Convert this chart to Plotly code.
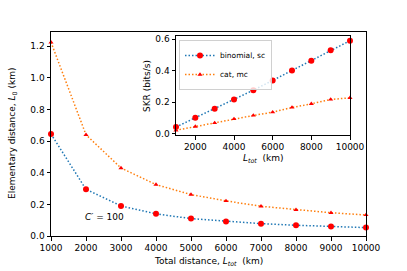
import plotly.graph_objects as go

W, H = 407, 271

# Data
l_tot = [1000, 2000, 3000, 4000, 5000, 6000, 7000, 8000, 9000, 10000]
l0_binomial = [0.645, 0.295, 0.19, 0.14, 0.11, 0.092, 0.078, 0.068, 0.06, 0.053]
l0_cat = [1.225, 0.64, 0.43, 0.325, 0.262, 0.222, 0.188, 0.166, 0.147, 0.133]
skr_binomial = [0.042, 0.1, 0.157, 0.217, 0.276, 0.338, 0.401, 0.463, 0.529, 0.59]
skr_cat = [0.021, 0.045, 0.068, 0.093, 0.115, 0.136, 0.166, 0.189, 0.217, 0.227]
main_xticks = [1000, 2000, 3000, 4000, 5000, 6000, 7000, 8000, 9000, 10000]
main_yticks = [0.0, 0.2, 0.4, 0.6, 0.8, 1.0, 1.2]
inset_xticks = [2000, 4000, 6000, 8000, 10000]
inset_yticks = [0.0, 0.2, 0.4, 0.6]
series_names = ["binomial, sc", "cat, mc"]

BLUE = "#1f77b4"
ORANGE = "#ff7f0e"
FONT = "DejaVu Sans"
FS = 9
DOT = "1.5px,2px"

def px_x(p):
    return p / W

def px_y(p):
    return 1 - p / H

fig = go.Figure()

# Main axes
fig.add_trace(go.Scatter(x=l_tot, y=l0_binomial, mode="lines+markers",
                         line=dict(color=BLUE, dash=DOT, width=1.5),
                         marker=dict(color="red", size=6, symbol="circle"),
                         showlegend=False, xaxis="x", yaxis="y", cliponaxis=False))
fig.add_trace(go.Scatter(x=l_tot, y=l0_cat, mode="lines+markers",
                         line=dict(color=ORANGE, dash=DOT, width=1.5),
                         marker=dict(color="red", size=4.5, symbol="triangle-up"),
                         showlegend=False, xaxis="x", yaxis="y", cliponaxis=False))

# Inset
fig.add_trace(go.Scatter(x=l_tot, y=skr_binomial, mode="lines+markers", name=series_names[0],
                         line=dict(color=BLUE, dash=DOT, width=1.5),
                         marker=dict(color="red", size=6, symbol="circle"),
                         showlegend=True, xaxis="x2", yaxis="y2", cliponaxis=False))
fig.add_trace(go.Scatter(x=l_tot, y=skr_cat, mode="lines+markers", name=series_names[1],
                         line=dict(color=ORANGE, dash=DOT, width=1.5),
                         marker=dict(color="red", size=4.5, symbol="triangle-up"),
                         showlegend=True, xaxis="x2", yaxis="y2", cliponaxis=False))

axis_common = dict(showline=True, linecolor="black", linewidth=1, mirror=True,
                   ticks="outside", ticklen=3.5, tickwidth=1, tickcolor="black",
                   showgrid=False, zeroline=False, automargin=False,
                   tickfont=dict(family=FONT, size=FS, color="black"))

fig.update_layout(
    width=W, height=H,
    margin=dict(l=0, r=0, t=0, b=0, autoexpand=False),
    paper_bgcolor="white", plot_bgcolor="white",
    font=dict(family=FONT, size=FS, color="black"),
    xaxis=dict(domain=[px_x(51), px_x(366)], range=[1000, 10000],
               tickvals=main_xticks, ticktext=[str(v) for v in main_xticks],
               anchor="y", **axis_common),
    yaxis=dict(domain=[px_y(236), px_y(32)], range=[0, 1.29],
               tickvals=main_yticks, ticktext=[f"{v:.1f}" for v in main_yticks],
               anchor="x", **axis_common),
    xaxis2=dict(domain=[px_x(176), px_x(350)], range=[1000, 10000],
                tickvals=inset_xticks, ticktext=[str(v) for v in inset_xticks],
                anchor="y2", **axis_common),
    yaxis2=dict(domain=[px_y(135), px_y(36)], range=[-0.009, 0.62],
                tickvals=inset_yticks, ticktext=[f"{v:.1f}" for v in inset_yticks],
                anchor="x2", **axis_common),
    legend=dict(x=px_x(179), y=px_y(40), xanchor="left", yanchor="top",
                bgcolor="rgba(255,255,255,0.8)", bordercolor="#d0d0d0", borderwidth=1,
                font=dict(family=FONT, size=7.5, color="black"),
                itemwidth=30, tracegroupgap=0),
    annotations=[
        dict(text="Total distance, <i>L</i><sub><i>tot</i></sub>  (km)", x=px_x(208), y=px_y(261),
             xref="paper", yref="paper", showarrow=False, xanchor="center", yanchor="middle",
             font=dict(family=FONT, size=FS)),
        dict(text="Elementary distance, <i>L</i><sub>0</sub> (km)", x=px_x(12), y=px_y(134),
             xref="paper", yref="paper", showarrow=False, xanchor="center", yanchor="middle",
             textangle=-90, font=dict(family=FONT, size=FS)),
        dict(text="<i>L</i><sub><i>tot</i></sub>  (km)", x=px_x(263), y=px_y(158),
             xref="paper", yref="paper", showarrow=False, xanchor="center", yanchor="middle",
             font=dict(family=FONT, size=FS)),
        dict(text="SKR (bits/s)", x=px_x(147), y=px_y(86),
             xref="paper", yref="paper", showarrow=False, xanchor="center", yanchor="middle",
             textangle=-90, font=dict(family=FONT, size=FS)),
        dict(text="<i>C′</i> = 100", x=px_x(104), y=px_y(217),
             xref="paper", yref="paper", showarrow=False, xanchor="center", yanchor="middle",
             font=dict(family=FONT, size=FS)),
    ],
)

fig.write_html("out.html", config={"displayModeBar": False},
               post_script="document.body.style.margin='0';document.body.style.overflow='hidden';")
